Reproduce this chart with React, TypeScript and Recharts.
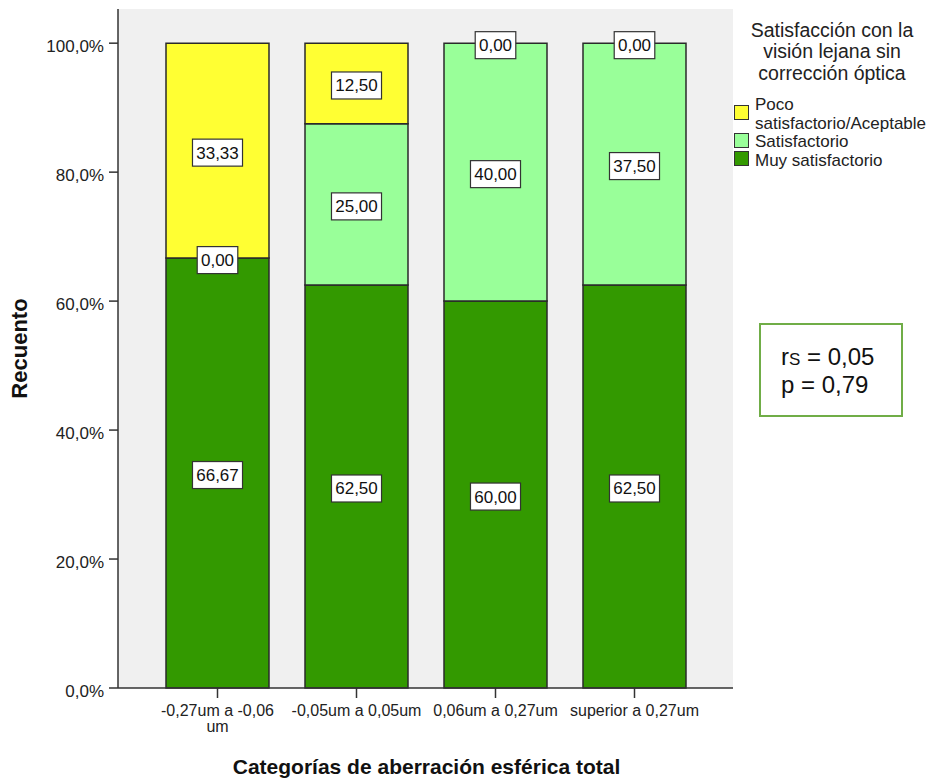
import React from 'react'
import { ComposedChart, Bar, Line, XAxis, YAxis, CartesianGrid, Legend, Text } from 'recharts'

const categories = ['-0,27um a -0,06 um', '-0,05um a 0,05um', '0,06um a 0,27um', 'superior a 0,27um']
const muySatisfactorio = [66.67, 62.5, 60.0, 62.5]
const satisfactorio = [0.0, 25.0, 40.0, 37.5]
const pocoSatisfactorio = [33.33, 12.5, 0.0, 0.0]
const yTicks = [0, 20, 40, 60, 80, 100]
const legendOrder = ['poco', 'sat', 'muy']

// label anchors sit in the middle of each stacked segment
const data = categories.map((cat, i) => ({
  cat,
  muy: muySatisfactorio[i],
  sat: satisfactorio[i],
  poco: pocoSatisfactorio[i],
  muyMid: muySatisfactorio[i] / 2,
  satMid: muySatisfactorio[i] + satisfactorio[i] / 2,
  pocoMid: muySatisfactorio[i] + satisfactorio[i] + pocoSatisfactorio[i] / 2,
}))

const FONT = '"Liberation Sans", Arial, sans-serif'
const AXIS = '#333'
const fmt = (v: number) => v.toFixed(2).replace('.', ',')
const fmtPct = (v: number) => `${v.toFixed(1).replace('.', ',')}%`

const boxDot = (field: string) => (props: any) => {
  const { cx, cy, payload, index } = props
  if (!isFinite(cx) || !isFinite(cy)) return <g key={index} />
  const text = fmt(Number(payload[field]))
  let tw = 0
  for (const ch of text) tw += ch === ',' ? 4.73 : 9.45
  const bw = tw + 7.5
  const bh = 27
  const y = cy + 2
  return (
    <g key={`${field}-${index}`}>
      <rect x={cx - bw / 2} y={y - bh / 2} width={bw} height={bh} fill="#fff" stroke="#333" strokeWidth={1.2} />
      <text x={cx} y={y + 6} textAnchor="middle" fontSize={17} fontFamily={FONT} fill="#111">
        {text}
      </text>
    </g>
  )
}

function CatTick({ x, y, payload }: any) {
  return (
    <Text
      x={x}
      y={y}
      width={137}
      textAnchor="middle"
      verticalAnchor="start"
      fontSize={16}
      fontFamily={FONT}
      fill="#222"
      style={{ fontSize: 16, fontFamily: FONT }}
    >
      {payload.value}
    </Text>
  )
}

function XTitle(props: any) {
  const vb = props.viewBox
  return (
    <text x={vb.x + vb.width / 2 + 1} y={vb.y + 86} textAnchor="middle" fontSize={21} fontWeight="bold" fontFamily={FONT} fill="#111">
      Categorías de aberración esférica total
    </text>
  )
}

function YTitle(props: any) {
  const vb = props.viewBox
  const tx = vb.x + 27
  const ty = vb.y + vb.height / 2
  return (
    <text x={tx} y={ty} transform={`rotate(-90, ${tx}, ${ty})`} textAnchor="middle" fontSize={22} fontWeight="bold" fontFamily={FONT} fill="#111">
      Recuento
    </text>
  )
}

function LegendBox(props: any) {
  const payload = props.payload || []
  const items = legendOrder.map((k) => payload.find((p: any) => p.dataKey === k)).filter(Boolean)
  return (
    <div style={{ fontFamily: FONT, color: '#222', paddingTop: 19.5 }}>
      <div style={{ width: 198, textAlign: 'center', fontSize: 19.5, lineHeight: '21.5px' }}>
        Satisfacción con la visión lejana sin corrección óptica
      </div>
      <div style={{ marginTop: 12 }}>
        {items.map((it: any) => (
          <div key={it.value} style={{ display: 'flex', alignItems: 'center', fontSize: 17, lineHeight: '18.5px' }}>
            <span
              style={{
                width: 13,
                height: 13,
                background: it.color,
                border: '1px solid #333',
                marginLeft: 1,
                marginRight: 6,
                marginTop: -4,
                flexShrink: 0,
              }}
            />
            <span style={{ width: 176 }}>{it.value}</span>
          </div>
        ))}
      </div>
    </div>
  )
}

export default function App() {
  const axisLine = { stroke: AXIS, strokeWidth: 1.5 }
  return (
    <div style={{ position: 'absolute', left: 0, top: 0, width: 934, height: 778, background: '#fff' }}>
      <ComposedChart
        width={934}
        height={778}
        data={data}
        margin={{ top: 9, right: 201, bottom: 0, left: 0 }}
        barSize={103}
      >
        <CartesianGrid fill="#f0f0f0" horizontal={false} vertical={false} />
        <XAxis
          dataKey="cat"
          height={90}
          interval={0}
          padding={{ left: 30, right: 29 }}
          tick={<CatTick />}
          tickSize={10}
          tickMargin={7}
          axisLine={axisLine}
          tickLine={axisLine}
          label={{ content: XTitle }}
        />
        <XAxis
          xAxisId="top"
          orientation="top"
          dataKey="cat"
          height={0}
          tick={false}
          tickLine={false}
          axisLine={axisLine}
        />
        <YAxis
          domain={[0, 105.3]}
          ticks={yTicks}
          width={118}
          tickFormatter={fmtPct}
          tick={{ fontSize: 17, fill: '#222', fontFamily: FONT, dy: 3 }}
          tickSize={9}
          tickMargin={5}
          axisLine={axisLine}
          tickLine={axisLine}
          label={{ content: YTitle }}
        />
        <YAxis yAxisId="right" orientation="right" width={0} tick={false} tickLine={false} axisLine={axisLine} />
        <Legend
          layout="vertical"
          align="center"
          verticalAlign="middle"
          content={LegendBox}
          wrapperStyle={{ left: 733, top: 0, width: 201 }}
        />
        <Bar dataKey="muy" name="Muy satisfactorio" stackId="a" fill="#339900" stroke="#2a2a2a" strokeWidth={1.5} isAnimationActive={false} />
        <Bar dataKey="sat" name="Satisfactorio" stackId="a" fill="#99ff99" stroke="#2a2a2a" strokeWidth={1.5} isAnimationActive={false} />
        <Bar dataKey="poco" name="Poco satisfactorio/Aceptable" stackId="a" fill="#ffff33" stroke="#2a2a2a" strokeWidth={1.5} isAnimationActive={false} />
        <Line dataKey="muyMid" stroke="none" legendType="none" dot={boxDot('muy')} activeDot={false} isAnimationActive={false} />
        <Line dataKey="satMid" stroke="none" legendType="none" dot={boxDot('sat')} activeDot={false} isAnimationActive={false} />
        <Line dataKey="pocoMid" stroke="none" legendType="none" dot={boxDot('poco')} activeDot={false} isAnimationActive={false} />
      </ComposedChart>
      <div
        style={{
          position: 'absolute',
          left: 759,
          top: 323,
          width: 140,
          height: 90,
          border: '2px solid #70ad47',
          boxSizing: 'content-box',
          fontFamily: FONT,
          fontSize: 24,
          lineHeight: '25px',
          color: '#111',
        }}
      >
        <div style={{ paddingTop: 19, paddingLeft: 20 }}>
          <div>
            r<span style={{ fontSize: 17 }}>S</span> = 0,05
          </div>
          <div>p = 0,79</div>
        </div>
      </div>
    </div>
  )
}
